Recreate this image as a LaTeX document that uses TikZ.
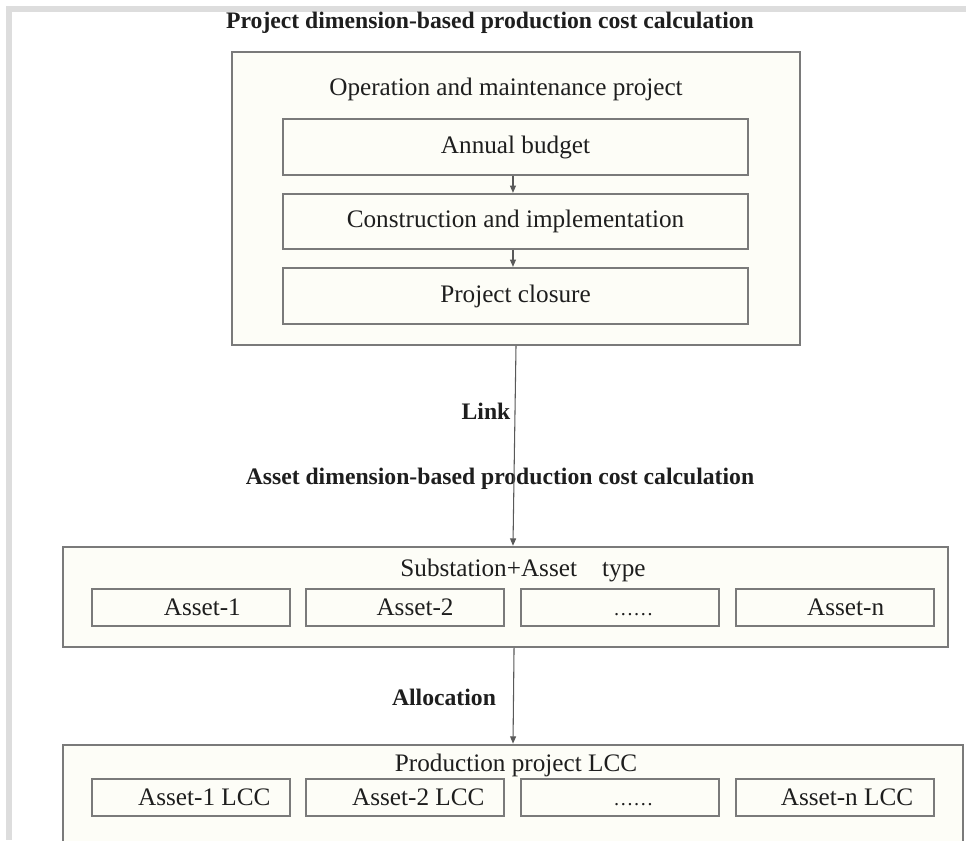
\documentclass[tikz,border=0pt]{standalone}
\usepackage{fontspec}
\setmainfont{Liberation Serif}
\usetikzlibrary{arrows.meta,calc}
\definecolor{boxfill}{HTML}{FDFDF7}
\definecolor{boxline}{HTML}{7A7A7A}
\definecolor{frame}{HTML}{DDDDDD}
\definecolor{txt}{HTML}{1E1E1E}
\tikzset{
  outerbox/.style={draw=boxline, line width=1.3pt, fill=boxfill, inner sep=0pt},
  innerbox/.style={draw=boxline, line width=1.1pt, fill=boxfill, inner sep=0pt, text=txt,
                   font=\fontsize{18.9pt}{22pt}\selectfont},
  plain/.style={inner sep=0pt, text=txt, font=\fontsize{18.9pt}{22pt}\selectfont},
  heading/.style={inner sep=0pt, text=txt, font=\fontsize{17.75pt}{22pt}\selectfont\bfseries},
  conn/.style={draw=black!65, line width=0.8pt, -{Triangle[length=5.5pt,width=4.5pt]}, shorten >=0.3pt},
}
\begin{document}
\begin{tikzpicture}[x=0.75pt,y=-0.75pt]
\clip (0,0) rectangle (966,840);
\fill[white] (0,0) rectangle (966,840);
% grey frame
\fill[frame] (6,6) rectangle (966,12);
\fill[frame] (6,6) rectangle (12,840);

% title
\node[heading] (title) at (490,23) {Project dimension-based production cost calculation};

% project box
\node[outerbox, minimum width=426pt, minimum height=219.75pt] (proj) at (516,198.5) {};
\node[plain] (projlab) at (506,89) {Operation and maintenance project};
\node[innerbox, minimum width=348.75pt, minimum height=42pt] (budget) at (515.5,147) {Annual budget};
\node[innerbox, minimum width=348.75pt, minimum height=41.25pt] (constr) at (515.5,221.5) {Construction and implementation};
\node[innerbox, minimum width=348.75pt, minimum height=42pt] (closure) at (515.5,296) {Project closure};
\draw[conn] ([xshift=-1.9pt]budget.south) -- ([xshift=-1.9pt]constr.north);
\draw[conn] ([xshift=-1.9pt]constr.south) -- ([xshift=-1.9pt]closure.north);

% link
\node[heading] (link) at (486,411) {Link};
\node[heading] (assethead) at (500,479) {Asset dimension-based production cost calculation};

% asset box
\node[outerbox, minimum width=663.75pt, minimum height=75pt] (asset) at (505.5,597) {};
\node[plain] (assetlab) at (523,570) {Substation+Asset\hspace{1em}type};
\node[innerbox, minimum width=148.5pt, minimum height=27.75pt] (a1) at (191,607.5) {\hspace*{17pt}Asset-1};
\node[innerbox, minimum width=148.5pt, minimum height=27.75pt] (a2) at (405,607.5) {\hspace*{15pt}Asset-2};
\node[innerbox, minimum width=148.5pt, minimum height=27.75pt] (a3) at (620,607.5) {\hspace*{20pt}\vphantom{Asset}{\fontsize{15pt}{18pt}\selectfont ……}};
\node[innerbox, minimum width=148.5pt, minimum height=27.75pt] (an) at (835,607.5) {\hspace*{16pt}Asset-n};

\draw[conn] (proj.south) -- ([xshift=5.6pt]asset.north);

% allocation
\node[heading] (alloc) at (444,697) {Allocation};
\node[outerbox, anchor=north, minimum width=675pt, minimum height=150pt] (lcc) at (513,744) {};
\node[plain] (lcclab) at (516,765) {Production project LCC};
\node[innerbox, minimum width=148.5pt, minimum height=27.75pt] (l1) at (191,797.5) {\hspace*{20pt}Asset-1 LCC};
\node[innerbox, minimum width=148.5pt, minimum height=27.75pt] (l2) at (405,797.5) {\hspace*{20pt}Asset-2 LCC};
\node[innerbox, minimum width=148.5pt, minimum height=27.75pt] (l3) at (620,797.5) {\hspace*{20pt}\vphantom{Asset}{\fontsize{15pt}{18pt}\selectfont ……}};
\node[innerbox, minimum width=148.5pt, minimum height=27.75pt] (ln) at (835,797.5) {\hspace*{18pt}Asset-n LCC};

\draw[conn] ([xshift=6.4pt]asset.south) -- (lcc.north);
\end{tikzpicture}
\end{document}
